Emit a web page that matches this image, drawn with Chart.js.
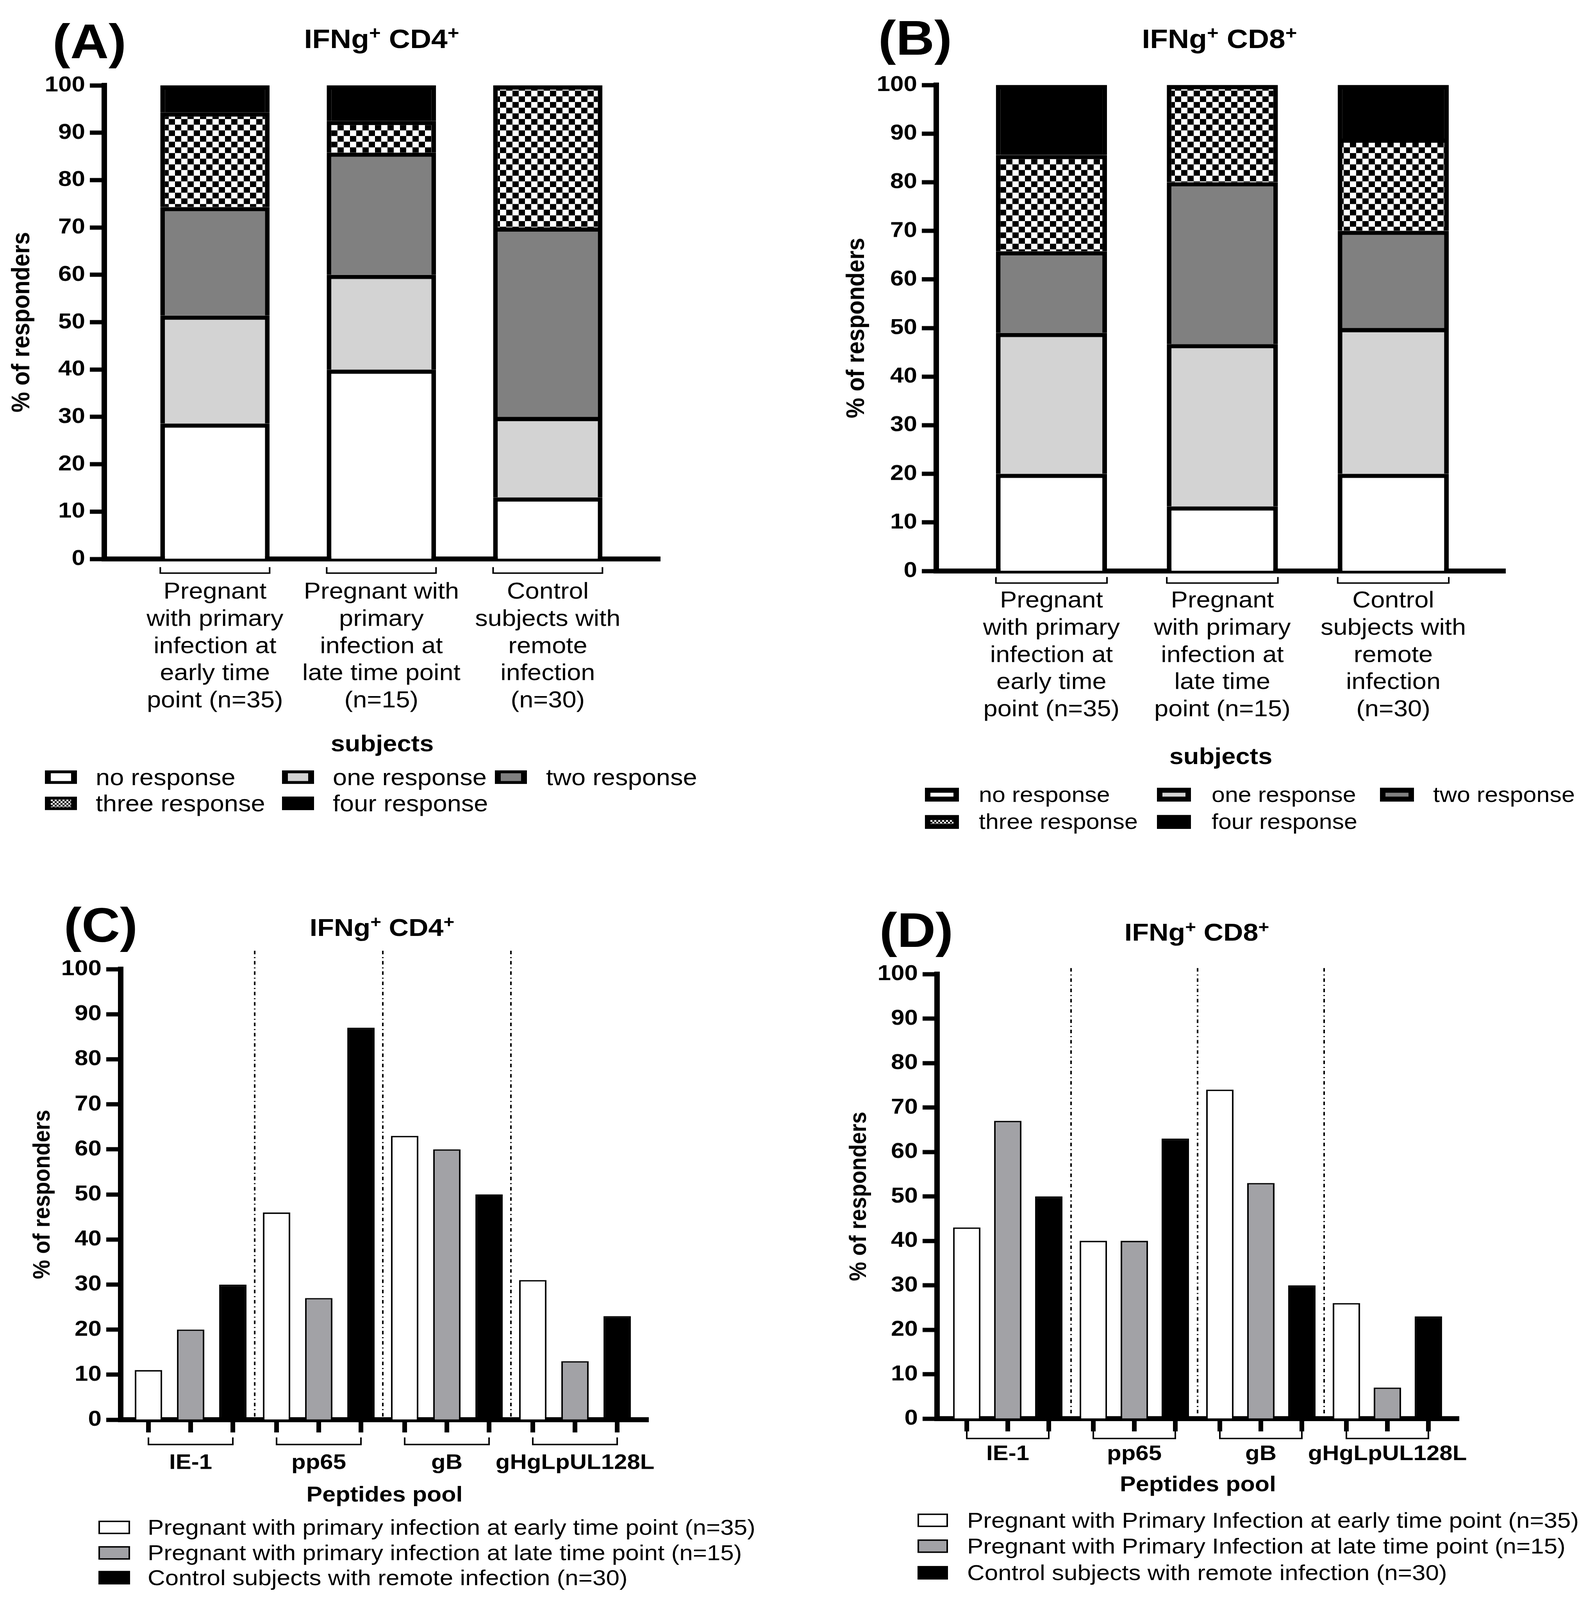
<!DOCTYPE html>
<html lang="en">
<head>
<meta charset="UTF-8">
<title>IFNg responders</title>
<style>
    html, body { margin: 0; padding: 0; background: #fff; }
    body {
        width: 100vw; height: 100vh; position: relative; overflow: hidden;
        font-family: "Liberation Sans", Arial, sans-serif; color: #000;
    }
    #fig { position: absolute; left: 0; top: 0; width: 4063px; height: 4517px; transform-origin: 0 0; }
    canvas { position: absolute; }
    .lbl { position: absolute; transform: translate(-50%, -50%); line-height: 1; font-weight: bold; white-space: nowrap; }
    .letter { font-size: 136px; }
    .title sup { font-size: 0.68em; vertical-align: 0.5em; line-height: 0; }
    .legtxt { position: absolute; transform: translateY(-50%); line-height: 1; white-space: nowrap; }
    .sw { position: absolute; box-sizing: border-box; }
</style>
</head>
<body>
<div id="fig">
    <canvas id="chartA" width="1800" height="2160" style="left:0px;top:0px"></canvas>
    <canvas id="chartB" width="2000" height="2200" style="left:2032px;top:0px"></canvas>
    <canvas id="chartC" width="1800" height="1830" style="left:0px;top:2450px"></canvas>
    <canvas id="chartD" width="1900" height="1800" style="left:2032px;top:2450px"></canvas>

    <div class="lbl letter" style="left:229px;top:117px">(A)</div>
    <div class="lbl letter" style="left:2343px;top:107px">(B)</div>
    <div class="lbl letter" style="left:258px;top:2612px">(C)</div>
    <div class="lbl letter" style="left:2346px;top:2626px">(D)</div>
    <div class="lbl title" style="left:977px;top:110px;font-size:75px">IFNg<sup>+</sup> CD4<sup>+</sup></div>
    <div class="lbl title" style="left:3122px;top:110px;font-size:75px">IFNg<sup>+</sup> CD8<sup>+</sup></div>
    <div class="lbl title" style="left:978px;top:2618px;font-size:70px">IFNg<sup>+</sup> CD4<sup>+</sup></div>
    <div class="lbl title" style="left:3064px;top:2632px;font-size:70px">IFNg<sup>+</sup> CD8<sup>+</sup></div>
</div>

<script src="https://cdn.jsdelivr.net/npm/chart.js"></script>
<script>
    // ---- data ----
    const subjectTicksCD4 = [
        ['Pregnant', 'with primary', 'infection at', 'early time', 'point (n=35)'],
        ['Pregnant with', 'primary', 'infection at', 'late time point', '(n=15)'],
        ['Control', 'subjects with', 'remote', 'infection', '(n=30)']
    ];
    const subjectTicksCD8 = [
        ['Pregnant', 'with primary', 'infection at', 'early time', 'point (n=35)'],
        ['Pregnant', 'with primary', 'infection at', 'late time', 'point (n=15)'],
        ['Control', 'subjects with', 'remote', 'infection', '(n=30)']
    ];
    const responseNames = ['no response', 'one response', 'two response', 'three response', 'four response'];

    // panel A, % of subjects per response count (bottom to top)
    const cd4None  = [28.6, 40, 13];
    const cd4One   = [22.8, 20, 17];
    const cd4Two   = [22.9, 25.8, 40];
    const cd4Three = [20, 6.7, 30];
    const cd4Four  = [5.7, 7.5, 0];

    // panel B
    const cd8None  = [20, 13.3, 20];
    const cd8One   = [29, 33.4, 30];
    const cd8Two   = [16.8, 33.3, 20];
    const cd8Three = [19.8, 20, 19];
    const cd8Four  = [14.4, 0, 11];

    const peptidePools = ['IE-1', 'pp65', 'gB', 'gHgLpUL128L'];
    const groupNamesC = [
        'Pregnant with primary infection at early time point (n=35)',
        'Pregnant with primary infection at late time point (n=15)',
        'Control subjects with remote infection (n=30)'
    ];
    const groupNamesD = [
        'Pregnant with Primary Infection at early time point (n=35)',
        'Pregnant with Primary Infection at late time point (n=15)',
        'Control subjects with remote infection (n=30)'
    ];
    // panel C
    const cd4Early   = [11, 46, 63, 31];
    const cd4Late    = [20, 27, 60, 13];
    const cd4Control = [30, 87, 50, 23];
    // panel D
    const cd8Early   = [43, 40, 74, 26];
    const cd8Late    = [67, 40, 53, 7];
    const cd8Control = [50, 63, 30, 23];

    const FONT = "'Liberation Sans', Arial, sans-serif";
    Chart.defaults.font.family = FONT;
    Chart.defaults.color = '#000';

    // fit the 4063x4517 figure into whatever window we get
    const fig = document.getElementById('fig');
    const sx = window.innerWidth / 4063, sy = window.innerHeight / 4517;
    fig.style.transform = `scale(${sx}, ${sy})`;

    function checkerPattern() {
        const c = document.createElement('canvas');
        c.width = 32; c.height = 32;
        const g = c.getContext('2d');
        g.fillStyle = '#fff'; g.fillRect(0, 0, 32, 32);
        g.fillStyle = '#000'; g.fillRect(0, 0, 16, 16); g.fillRect(16, 16, 16, 16);
        return g.createPattern(c, 'repeat');
    }
    const stackFills = ['#ffffff', '#d3d3d3', '#808080', checkerPattern(), '#000000'];
    const groupFills = ['#ffffff', '#a2a2a6', '#000000'];

    // brackets, bar ticks and group dividers (GraphPad style)
    const gpMarks = {
        id: 'gpMarks',
        afterDraw(chart, args, o) {
            const {ctx, chartArea} = chart;
            const base = chartArea.bottom;
            const bracket = (l, r, y) => {
                ctx.beginPath();
                ctx.moveTo(l, y - o.bracketTick); ctx.lineTo(l, y);
                ctx.lineTo(r, y); ctx.lineTo(r, y - o.bracketTick);
                ctx.stroke();
            };
            ctx.save();
            ctx.strokeStyle = '#000';
            ctx.fillStyle = '#000';
            ctx.lineWidth = 4;
            if (o.mode === 'stack') {
                chart.getDatasetMeta(0).data.forEach(b => {
                    const p = b.getProps(['x', 'width'], true);
                    bracket(p.x - p.width / 2, p.x + p.width / 2, base + o.bracketGap);
                });
            } else {
                const n = chart.data.datasets.length;
                for (let k = 0; k < n; k++) {
                    chart.getDatasetMeta(k).data.forEach(b => {
                        ctx.fillRect(b.x - 6, base, 12, 36);
                    });
                }
                const first = chart.getDatasetMeta(0).data;
                const last = chart.getDatasetMeta(n - 1).data;
                first.forEach((b, g) => bracket(b.x, last[g].x, base + o.bracketGap));
                const xs = chart.scales.x;
                ctx.setLineDash([10, 8, 3, 8]);
                for (let g = 0; g < first.length - 1; g++) {
                    const x = xs.getPixelForValue(g + 0.5);
                    ctx.beginPath();
                    ctx.moveTo(x, chartArea.top - o.dividerOver);
                    ctx.lineTo(x, base - 7);
                    ctx.stroke();
                }
            }
            ctx.restore();
        }
    };

    function yAxis(g, titleSize) {
        return {
            stacked: g.stacked, min: 0, max: 100,
            afterFit: s => { s.width = g.yW; },
            ticks: { stepSize: 10, padding: 12, color: '#000', font: { size: 62, weight: 'bold' } },
            grid: { drawOnChartArea: false, drawTicks: true, tickLength: 37, tickWidth: 12, tickColor: '#000' },
            border: { display: true, width: 14, color: '#000' },
            title: {
                display: true, text: '% of responders', color: '#000',
                font: { size: titleSize, weight: 'bold', lineHeight: 1 },
                padding: { top: g.yTitleX - titleSize / 2, bottom: 0 }
            }
        };
    }

    function xAxis(g, tickLines, tickFont, titleText, titleSize) {
        return {
            type: 'linear', stacked: g.stacked, min: g.xMin, max: g.xMax, offset: false,
            afterBuildTicks: s => { s.ticks = tickLines.map((_, i) => ({ value: i })); },
            afterFit: s => { s.height = g.xH; },
            grid: { display: false, drawTicks: false, offset: false },
            border: { display: true, width: 14, color: '#000' },
            ticks: {
                autoSkip: false, maxRotation: 0, minRotation: 0, padding: g.xPad, color: '#000',
                font: tickFont, callback: v => tickLines[v]
            },
            title: {
                display: true, text: titleText, color: '#000',
                font: { size: titleSize, weight: 'bold', lineHeight: 1 },
                padding: { top: 0, bottom: g.xTitlePad }
            }
        };
    }

    function stackedChart(id, g, tickLines, series) {
        new Chart(document.getElementById(id), {
            type: 'bar',
            data: {
                datasets: series.map((vals, k) => ({
                    label: responseNames[k],
                    data: vals.map((v, i) => ({ x: i, y: v })),
                    backgroundColor: stackFills[k],
                    borderColor: '#000',
                    borderWidth: 12,
                    categoryPercentage: 1,
                    barPercentage: g.barPct
                }))
            },
            options: {
                responsive: false, animation: false, devicePixelRatio: 1,
                layout: { padding: { left: 0, top: g.top, right: g.right, bottom: 0 } },
                plugins: {
                    legend: { display: false }, tooltip: { enabled: false },
                    gpMarks: { mode: 'stack', bracketGap: g.bracketGap, bracketTick: 17 }
                },
                scales: {
                    x: xAxis(g, tickLines, { size: 65, lineHeight: 1.18 }, 'subjects', 65),
                    y: yAxis(g, 65)
                }
            },
            plugins: [gpMarks]
        });
    }

    function groupedChart(id, g, series) {
        new Chart(document.getElementById(id), {
            type: 'bar',
            data: {
                datasets: series.map((vals, k) => ({
                    data: vals.map((v, i) => ({ x: i, y: v })),
                    backgroundColor: groupFills[k],
                    borderColor: '#000',
                    borderWidth: 4,
                    categoryPercentage: g.catPct,
                    barPercentage: g.barPct
                }))
            },
            options: {
                responsive: false, animation: false, devicePixelRatio: 1,
                layout: { padding: { left: 0, top: g.top, right: g.right, bottom: 0 } },
                plugins: {
                    legend: { display: false }, tooltip: { enabled: false },
                    gpMarks: { mode: 'group', bracketGap: g.bracketGap, bracketTick: 20, dividerOver: g.dividerOver }
                },
                scales: {
                    x: xAxis(g, peptidePools, { size: 60, weight: 'bold', lineHeight: 1.2 }, 'Peptides pool', 61),
                    y: yAxis(g, 61)
                }
            },
            plugins: [gpMarks]
        });
    }

    stackedChart('chartA', {
        stacked: true, top: 241, right: 110, yW: 267, xH: 582, xMin: -0.665, xMax: 2.675,
        xPad: 56, xTitlePad: 24.5, yTitleX: 57, barPct: 0.657, bracketGap: 40
    }, subjectTicksCD4, [cd4None, cd4One, cd4Two, cd4Three, cd4Four]);

    stackedChart('chartB', {
        stacked: true, top: 240, right: 178, yW: 365, xH: 588, xMin: -0.674, xMax: 2.656,
        xPad: 47, xTitlePad: 28.5, yTitleX: 162, barPct: 0.65, bracketGap: 34
    }, subjectTicksCD8, [cd8None, cd8One, cd8Two, cd8Three, cd8Four]);

    groupedChart('chartC', {
        stacked: false, top: 286, right: 140, yW: 309, xH: 272, xMin: -0.546, xMax: 3.573,
        xPad: 86, xTitlePad: 27.5, yTitleX: 110, catPct: 0.988, barPct: 0.648,
        bracketGap: 70, dividerOver: 52
    }, [cd4Early, cd4Late, cd4Control]);

    groupedChart('chartD', {
        stacked: false, top: 300, right: 197, yW: 367, xH: 245, xMin: -0.559, xMax: 3.565,
        xPad: 64, xTitlePad: 26.5, yTitleX: 168, catPct: 0.972, barPct: 0.667,
        bracketGap: 56, dividerOver: 17
    }, [cd8Early, cd8Late, cd8Control]);

    // ---- legends (HTML) ----
    function legendItem(x, y, w, h, css, textX, text, size) {
        const sw = document.createElement('div');
        sw.className = 'sw';
        sw.style.cssText = `left:${x}px;top:${y - h / 2}px;width:${w}px;height:${h}px;${css}`;
        fig.appendChild(sw);
        const t = document.createElement('div');
        t.className = 'legtxt';
        t.style.cssText = `left:${textX}px;top:${y}px;font-size:${size}px`;
        t.textContent = text;
        fig.appendChild(t);
    }
    const checkerCss = 'background:repeating-conic-gradient(#000 0 25%, #fff 0 50%) 0 0/10px 10px;';
    function swatchFill(k) {
        return k === 3 ? checkerCss : `background:${stackFills[k]};`;
    }

    const legA = { rows: [2194, 2268], sw: [115, 722, 1267], tx: [245, 852, 1398] };
    responseNames.forEach((name, k) => {
        const c = k % 3, r = Math.floor(k / 3);
        legendItem(legA.sw[c], legA.rows[r], 82, 38,
            'border:solid #000;border-width:8px 15px;' + swatchFill(k), legA.tx[c], name, 65);
    });
    const legB = { rows: [2243, 2320], sw: [2368, 2962, 3533], tx: [2506, 3102, 3669] };
    responseNames.forEach((name, k) => {
        const c = k % 3, r = Math.floor(k / 3);
        legendItem(legB.sw[c], legB.rows[r], 87, 39,
            'border:14px solid #000;' + swatchFill(k), legB.tx[c], name, 61);
    });

    const legCRows = [4312, 4384, 4454];
    groupNamesC.forEach((name, k) => {
        legendItem(252, legCRows[k], 81, 38, `border:4px solid #000;background:${groupFills[k]};`, 378, name, 62);
    });
    const legDRows = [4292, 4365, 4440];
    groupNamesD.forEach((name, k) => {
        legendItem(2349, legDRows[k], 78, 38, `border:4px solid #000;background:${groupFills[k]};`, 2476, name, 62);
    });
</script>
</body>
</html>
